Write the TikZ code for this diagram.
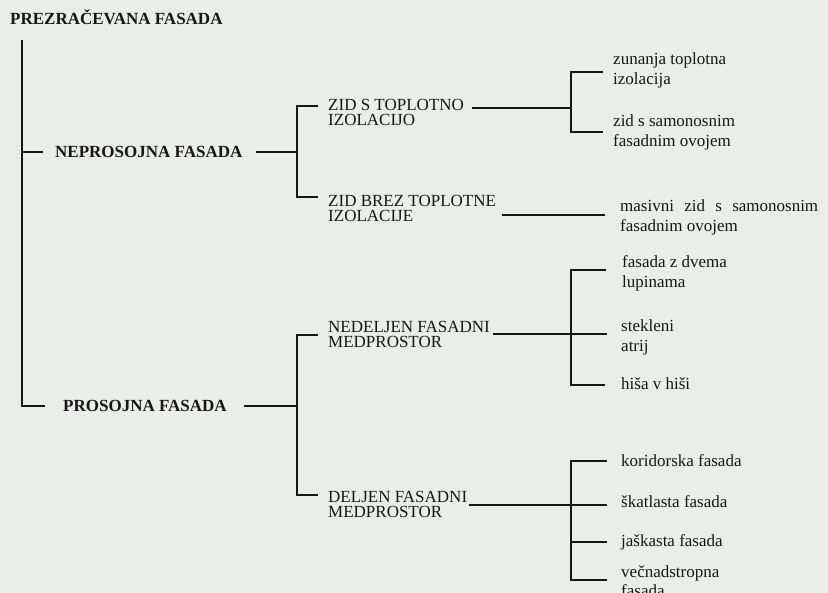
\documentclass[tikz,border=0pt]{standalone}
\usepackage{fontspec}
\setmainfont{Liberation Serif}
\definecolor{paper}{RGB}{234,238,232}
\definecolor{ink}{RGB}{22,22,22}

\begin{document}
\begin{tikzpicture}[x=1pt,y=-1pt]
\tikzset{every node/.style={inner sep=0pt, anchor=base west, text=ink}}
\tikzset{main/.style={font=\fontsize{17}{17}\selectfont\bfseries}}
\tikzset{kind/.style={font=\fontsize{17}{15.5}\selectfont, align=left}}
\tikzset{leaf/.style={font=\fontsize{17}{20}\selectfont, align=left}}
\tikzset{wire/.style={draw=ink, line width=1.9pt}}
\fill[paper] (0,0) rectangle (828,593);
\useasboundingbox (0,0) rectangle (828,593);

\node[main] (root) at (10,25) {PREZRAČEVANA FASADA};
\node[main] (nep) at (55,158) {NEPROSOJNA FASADA};
\node[main] (pro) at (63,412) {PROSOJNA FASADA};

\node[kind] (zidsto) at (328,126) {ZID S TOPLOTNO\\IZOLACIJO};
\node[kind] (zidbrez) at (328,222) {ZID BREZ TOPLOTNE\\IZOLACIJE};
\node[kind] (nedel) at (328,348) {NEDELJEN FASADNI\\MEDPROSTOR};
\node[kind] (deljen) at (328,518) {DELJEN FASADNI\\MEDPROSTOR};

\node[leaf] (zun) at (613,85) {zunanja toplotna\\izolacija};
\node[leaf] (samo) at (613,147) {zid s samonosnim\\fasadnim ovojem};
\node[leaf] (masiv) at (620,232) {\makebox[198pt][s]{masivni zid s samonosnim}\\fasadnim ovojem};
\node[leaf] (dvema) at (622,288) {fasada z dvema\\lupinama};
\node[leaf] (atrij) at (621,352) {stekleni\\atrij};
\node[leaf] (hisa) at (621,390) {hiša v hiši};
\node[leaf] (kor) at (621,467) {koridorska fasada};
\node[leaf] (skat) at (621,508) {škatlasta fasada};
\node[leaf] (jask) at (621,547) {jaškasta fasada};
\node[leaf] (vecn) at (621,597) {večnadstropna\\fasada};

\coordinate (trunk) at (22,40);
\coordinate (nepj) at (297,152);
\coordinate (proj) at (297,406);
\coordinate (zidj) at (571,108);
\coordinate (nedj) at (571,334);
\coordinate (deljj) at (571,505);

\draw[wire] (trunk) |- ([xshift=-18pt,yshift=6pt]pro.base west);
\draw[wire] ([xshift=-12pt,yshift=6pt]nep.base west) -| (trunk);

\draw[wire] ([xshift=13pt,yshift=6pt]nep.base east) -- (nepj);
\draw[wire] ([xshift=-10pt,yshift=20pt]zidsto.base west) -| (nepj) |- ([xshift=-10pt,yshift=25pt]zidbrez.base west);
\draw[wire] ([xshift=17pt,yshift=6pt]pro.base east) -- (proj);
\draw[wire] ([xshift=-10pt,yshift=13pt]nedel.base west) -| (proj) |- ([xshift=-10pt,yshift=23pt]deljen.base west);

\draw[wire] ([xshift=8pt,yshift=18pt]zidsto.base east) -- (zidj);
\draw[wire] ([xshift=-10pt,yshift=13pt]zun.base west) -| (zidj) |- ([xshift=-10pt,yshift=15pt]samo.base west);
\draw[wire] ([xshift=6pt,yshift=7pt]zidbrez.base east) -- ([xshift=-15pt,yshift=17pt]masiv.base west);

\draw[wire] ([xshift=3pt,yshift=14pt]nedel.base east) -- ([xshift=-14pt,yshift=18pt]atrij.base west);
\draw[wire] ([xshift=-16pt,yshift=18pt]dvema.base west) -| (nedj) |- ([xshift=-16pt,yshift=5pt]hisa.base west);

\draw[wire] ([xshift=2pt,yshift=13pt]deljen.base east) -- ([xshift=-14pt,yshift=3pt]skat.base west);
\draw[wire] ([xshift=-14pt,yshift=6pt]kor.base west) -| (deljj) |- ([xshift=-14pt,yshift=17pt]vecn.base west);
\draw[wire] ([xshift=-14pt,yshift=5pt]jask.base west) -| (deljj);
\end{tikzpicture}
\end{document}
